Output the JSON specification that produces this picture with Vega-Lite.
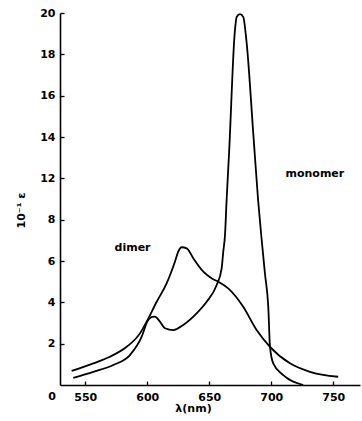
{
  "$schema": "https://vega.github.io/schema/vega-lite/v6.json",
  "width": 300,
  "height": 372,
  "autosize": "none",
  "padding": {"left": 60, "top": 13, "right": 2, "bottom": 36},
  "background": "white",
  "config": {
    "view": {"stroke": null},
    "axis": {
      "grid": false,
      "domainColor": "black",
      "domainWidth": 1.6,
      "tickColor": "black",
      "tickWidth": 1.3,
      "tickSize": -4,
      "labelFont": "DejaVu Sans",
      "labelFontWeight": "bold",
      "labelFontSize": 11,
      "labelColor": "black",
      "titleFont": "DejaVu Sans",
      "titleFontWeight": "bold",
      "titleFontSize": 11,
      "titleColor": "black"
    }
  },
  "encoding": {
    "x": {
      "field": "wl",
      "type": "quantitative",
      "scale": {"domain": [529.6, 771.6], "nice": false, "zero": false},
      "axis": {
        "values": [550, 600, 650, 700, 750],
        "title": "λ(nm)",
        "labelPadding": 10,
        "titlePadding": 0,
        "titleX": 133
      }
    },
    "y": {
      "field": "eps",
      "type": "quantitative",
      "scale": {"domain": [0, 8, 12, 20], "range": [372, 206.8, 165.4, 0], "nice": false, "zero": false},
      "axis": {
        "values": [2, 4, 6, 8, 12, 14, 16, 18, 20],
        "title": "10⁻¹ ε",
        "labelPadding": 9,
        "titlePadding": 13,
        "titleY": 197
      }
    }
  },
  "layer": [
    {
      "data": {
        "values": [
          {"series": "dimer", "wl": 539.0, "eps": 0.68},
          {"series": "dimer", "wl": 556.5, "eps": 1.05},
          {"series": "dimer", "wl": 569.9, "eps": 1.37},
          {"series": "dimer", "wl": 583.4, "eps": 1.85},
          {"series": "dimer", "wl": 594.1, "eps": 2.5},
          {"series": "dimer", "wl": 599.5, "eps": 3.07},
          {"series": "dimer", "wl": 607.6, "eps": 4.03},
          {"series": "dimer", "wl": 615.6, "eps": 4.92},
          {"series": "dimer", "wl": 622.3, "eps": 5.97},
          {"series": "dimer", "wl": 625.0, "eps": 6.46},
          {"series": "dimer", "wl": 627.7, "eps": 6.67},
          {"series": "dimer", "wl": 631.8, "eps": 6.62},
          {"series": "dimer", "wl": 637.1, "eps": 6.14},
          {"series": "dimer", "wl": 645.2, "eps": 5.49},
          {"series": "dimer", "wl": 651.9, "eps": 5.17},
          {"series": "dimer", "wl": 657.3, "eps": 5.0},
          {"series": "dimer", "wl": 665.3, "eps": 4.68},
          {"series": "dimer", "wl": 677.4, "eps": 3.79},
          {"series": "dimer", "wl": 688.2, "eps": 2.66},
          {"series": "dimer", "wl": 699.0, "eps": 1.85},
          {"series": "dimer", "wl": 715.1, "eps": 1.05},
          {"series": "dimer", "wl": 731.2, "eps": 0.64},
          {"series": "dimer", "wl": 754.0, "eps": 0.4},
          {"series": "monomer", "wl": 540.3, "eps": 0.35},
          {"series": "monomer", "wl": 556.5, "eps": 0.64},
          {"series": "monomer", "wl": 572.6, "eps": 0.97},
          {"series": "monomer", "wl": 586.0, "eps": 1.45},
          {"series": "monomer", "wl": 595.5, "eps": 2.34},
          {"series": "monomer", "wl": 600.0, "eps": 3.07},
          {"series": "monomer", "wl": 604.0, "eps": 3.3},
          {"series": "monomer", "wl": 606.2, "eps": 3.31},
          {"series": "monomer", "wl": 610.2, "eps": 3.07},
          {"series": "monomer", "wl": 614.3, "eps": 2.75},
          {"series": "monomer", "wl": 621.0, "eps": 2.66},
          {"series": "monomer", "wl": 629.0, "eps": 2.91},
          {"series": "monomer", "wl": 639.8, "eps": 3.47},
          {"series": "monomer", "wl": 647.9, "eps": 4.03},
          {"series": "monomer", "wl": 656.0, "eps": 4.84},
          {"series": "monomer", "wl": 660.0, "eps": 5.65},
          {"series": "monomer", "wl": 661.3, "eps": 6.46},
          {"series": "monomer", "wl": 662.7, "eps": 7.26},
          {"series": "monomer", "wl": 664.0, "eps": 9.91},
          {"series": "monomer", "wl": 666.1, "eps": 13.37},
          {"series": "monomer", "wl": 670.5, "eps": 19.01},
          {"series": "monomer", "wl": 672.1, "eps": 19.81},
          {"series": "monomer", "wl": 674.8, "eps": 19.95},
          {"series": "monomer", "wl": 677.4, "eps": 19.81},
          {"series": "monomer", "wl": 680.2, "eps": 18.53},
          {"series": "monomer", "wl": 685.5, "eps": 14.18},
          {"series": "monomer", "wl": 689.4, "eps": 9.91},
          {"series": "monomer", "wl": 692.3, "eps": 7.02},
          {"series": "monomer", "wl": 694.9, "eps": 5.41},
          {"series": "monomer", "wl": 697.6, "eps": 3.79},
          {"series": "monomer", "wl": 699.0, "eps": 1.85},
          {"series": "monomer", "wl": 701.6, "eps": 1.05},
          {"series": "monomer", "wl": 709.7, "eps": 0.48},
          {"series": "monomer", "wl": 725.8, "eps": 0.0}
        ]
      },
      "mark": {"type": "line", "color": "black", "strokeWidth": 1.8, "interpolate": "monotone"},
      "encoding": {"detail": {"field": "series", "type": "nominal"}}
    },
    {
      "data": {
        "values": [
          {"wl": 588.1, "eps": 6.63, "t": "dimer"},
          {"wl": 735.2, "eps": 12.2, "t": "monomer"}
        ]
      },
      "mark": {"type": "text", "font": "DejaVu Sans", "fontWeight": "bold", "fontSize": 11, "color": "black", "align": "center", "baseline": "middle"},
      "encoding": {"text": {"field": "t"}}
    },
    {
      "data": {"values": [{"wl": 529.6, "eps": 0, "t": "0"}]},
      "mark": {"type": "text", "font": "DejaVu Sans", "fontWeight": "bold", "fontSize": 11, "color": "black", "align": "center", "baseline": "middle", "dx": -8, "dy": 12},
      "encoding": {"text": {"field": "t"}}
    }
  ]
}
